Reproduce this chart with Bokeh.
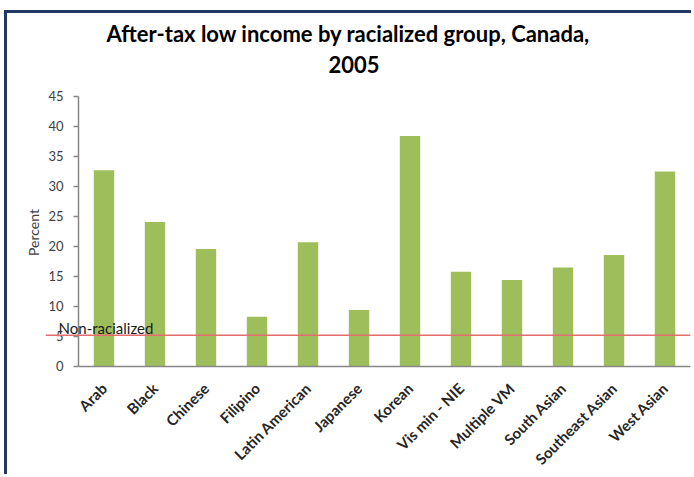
import math
from bokeh.plotting import figure
from bokeh.models import (Range1d, LinearAxis, FixedTicker, Span, Label, Title,
                          ColumnDataSource)
from bokeh.embed import file_html
from bokeh.resources import INLINE

# ---- data -------------------------------------------------------------
categories = ["Arab", "Black", "Chinese", "Filipino", "Latin American",
              "Japanese", "Korean", "Vis min - NIE", "Multiple VM",
              "South Asian", "Southeast Asian", "West Asian"]
low_income_pct = [32.7, 24.1, 19.6, 8.3, 20.7, 9.4, 38.4, 15.8, 14.4,
                  16.5, 18.6, 32.5]
non_racialized_pct = 5.2
y_ticks = [0, 5, 10, 15, 20, 25, 30, 35, 40, 45]
title_line1 = "After-tax low income by racialized group, Canada,"
title_line2 = "2005"
y_label = "Percent"
ref_label = "Non-racialized"

FONT = "Lato"
BAR = "#9EBE5C"
AXIS = "#868686"
TXT = "#404040"

n = len(categories)
xs = [i + 0.5 for i in range(n)]
src = ColumnDataSource(dict(x=xs, top=low_income_pct, name=categories))

p = figure(width=687, height=464,
           x_range=Range1d(-0.647, n), y_range=Range1d(-1.667, 46.333),
           output_backend="svg", toolbar_location=None,
           y_axis_location=None,
           min_border_left=38, min_border_right=4,
           min_border_top=75, min_border_bottom=101)
p.styles = {"margin-left": "4px", "margin-top": "10px",
            "border-left": "3px solid #1F3864",
            "border-top": "3px solid #1F3864"}
p.outline_line_color = None
p.xgrid.grid_line_color = None
p.ygrid.grid_line_color = None
p.background_fill_color = "white"
p.border_fill_color = "white"

p.vbar(x="x", top="top", width=0.4, source=src, fill_color=BAR,
       line_color=None)

# y axis at x = 0 (so the reference line can run past it)
yax = LinearAxis(fixed_location=0, ticker=FixedTicker(ticks=y_ticks),
                 bounds=(0, 45))
yax.axis_line_color = AXIS
yax.axis_line_width = 1.5
yax.major_tick_line_color = AXIS
yax.major_tick_line_width = 1.5
yax.major_tick_out = 5
yax.major_tick_in = 0
yax.minor_tick_line_color = None
yax.major_label_standoff = 10
yax.major_label_text_font = FONT
yax.major_label_text_font_size = "13px"
yax.major_label_text_color = TXT
p.add_layout(yax, "left")

# baseline axis at y = 0
base = LinearAxis(fixed_location=0, ticker=FixedTicker(ticks=[]),
                  bounds=(0, n))
base.axis_line_color = AXIS
base.axis_line_width = 1.5
base.major_tick_line_color = None
base.minor_tick_line_color = None
p.add_layout(base, "below")

# category labels
xax = p.xaxis[0]
xax.ticker = FixedTicker(ticks=xs)
xax.major_label_overrides = {x: c for x, c in zip(xs, categories)}
xax.axis_line_color = None
xax.major_tick_line_color = None
xax.minor_tick_line_color = None
xax.major_label_orientation = math.pi / 4
xax.major_label_standoff = 3
xax.major_label_text_font = FONT
xax.major_label_text_font_size = "15px"
xax.major_label_text_font_style = "bold"
xax.major_label_text_color = "#262626"

p.add_layout(Span(location=non_racialized_pct, dimension="width",
                  line_color="#E46C6C", line_width=1.5))
p.add_layout(Label(x=-0.39, y=non_racialized_pct, y_offset=7,
                   text=ref_label, text_font=FONT, text_font_size="15px",
                   text_color="#1a1a1a", text_baseline="alphabetic"))

ylab = Title(text=y_label, align="center", text_font=FONT,
             text_font_size="14px", text_font_style="normal",
             text_color=TXT, standoff=8)
p.add_layout(ylab, "left")

t2 = Title(text=title_line2, align="left", offset=283, text_font=FONT,
           text_font_size="22px", text_font_style="bold",
           text_color="black", standoff=32)
p.add_layout(t2, "above")
t1 = Title(text=title_line1, align="left", offset=61, text_font=FONT,
           text_font_size="22px", text_font_style="bold",
           text_color="black", standoff=-18)
p.add_layout(t1, "above")

open("out.html", "w").write(file_html(p, INLINE))
